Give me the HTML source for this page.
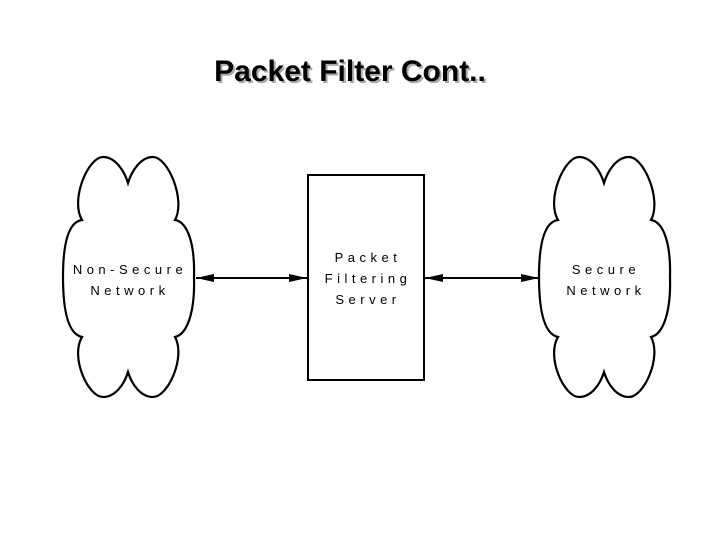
<!DOCTYPE html>
<html><head><style>
body{margin:0;background:#fff;}
svg{display:block}
.t{font-family:"Liberation Sans",sans-serif;font-size:13px;letter-spacing:4.5px;fill:#000}
</style></head><body>
<svg width="720" height="540" viewBox="0 0 720 540" xmlns="http://www.w3.org/2000/svg">
<defs>
<marker id="a" viewBox="0 0 10 10" refX="10" refY="5" markerWidth="18" markerHeight="8" markerUnits="userSpaceOnUse" orient="auto-start-reverse" preserveAspectRatio="none"><path d="M0,0L10,5L0,10z" fill="#000"/></marker>
<g id="c">
<path d="M82,220 C70,200 88,157 103,157 C115,157 124,170 128,183 C132,170 141,157 153,157 C168,157 186,200 175,220 C188,222 195,245 194,277 C195,310 188,334 175,337 C186,357 168,397 153,397 C141,397 132,385 128,372 C124,385 115,397 103,397 C88,397 70,357 82,337 C68,334 63,310 63,277 C63,245 68,222 82,220 Z" fill="#fff" stroke="#000" stroke-width="2.2"/>
</g>
</defs>
<text x="352" y="83" text-anchor="middle" font-family="Liberation Sans,sans-serif" font-weight="bold" font-size="30" fill="#aaa">Packet Filter Cont..</text>
<text x="350" y="81" text-anchor="middle" font-family="Liberation Sans,sans-serif" font-weight="bold" font-size="30" fill="#000">Packet Filter Cont..</text>
<use href="#c"/>
<use href="#c" transform="translate(476,0)"/>
<rect x="308" y="175" width="116" height="205" fill="#fff" stroke="#000" stroke-width="2"/>
<line x1="196" y1="278" x2="307" y2="278" stroke="#000" stroke-width="2" marker-start="url(#a)" marker-end="url(#a)"/>
<line x1="425" y1="278" x2="539" y2="278" stroke="#000" stroke-width="2" marker-start="url(#a)" marker-end="url(#a)"/>
<text class="t" x="130" y="274" text-anchor="middle">Non-Secure</text>
<text class="t" x="130" y="295" text-anchor="middle">Network</text>
<text class="t" x="368" y="262" text-anchor="middle">Packet</text>
<text class="t" x="368" y="283" text-anchor="middle">Filtering</text>
<text class="t" x="368" y="304" text-anchor="middle">Server</text>
<text class="t" x="606" y="274" text-anchor="middle">Secure</text>
<text class="t" x="606" y="295" text-anchor="middle">Network</text>
</svg>
</body></html>
